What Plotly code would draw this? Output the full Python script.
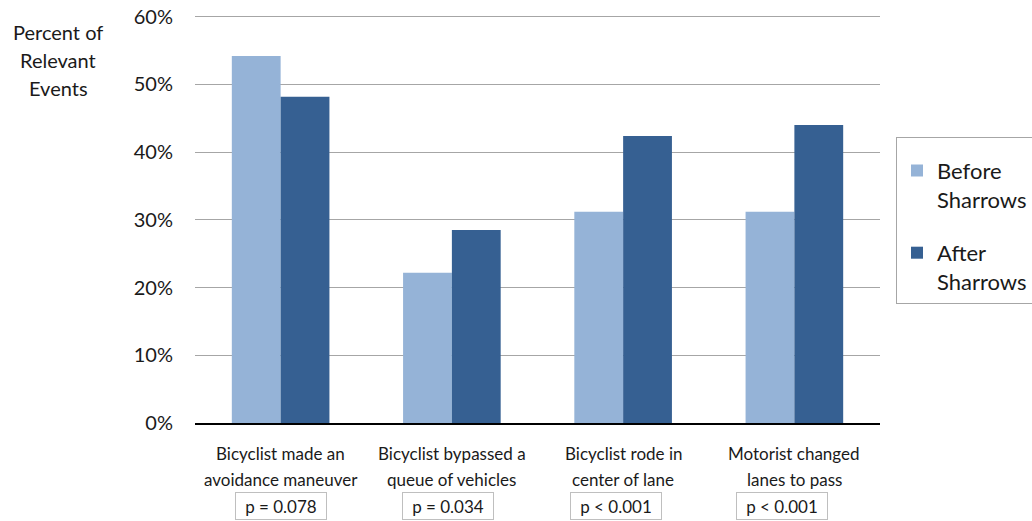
import plotly.graph_objects as go

categories = ["c1", "c2", "c3", "c4"]
label_line1 = ["Bicyclist made an", "Bicyclist bypassed a", "Bicyclist rode in", "Motorist changed"]
label_line2 = ["avoidance maneuver", "queue of vehicles", "center of lane", "lanes to pass"]
p_values = ["p = 0.078", "p = 0.034", "p < 0.001", "p < 0.001"]
before = [54.2, 22.2, 31.2, 31.2]
after = [48.2, 28.5, 42.4, 44.0]
series_names = ["Before<br>Sharrows", "After<br>Sharrows"]
y_ticks = [0, 10, 20, 30, 40, 50, 60]
y_tick_labels = ["0%", "10%", "20%", "30%", "40%", "50%", "60%"]

FONT = "Lato"
TXT = "#1a1a1a"
W, H = 1032, 521
ML, MR, MT, MB = 195, 152, 10, 98
PLOT_L, PLOT_B = 195, 423          # pixel coordinates of plot area left / bottom
plot_h = H - MT - MB
plot_w = W - ML - MR

def py(px):
    return (PLOT_B - px) / plot_h

def pxx(px):
    return (px - PLOT_L) / plot_w

fig = go.Figure()
fig.add_trace(go.Bar(x=categories, y=before, name=series_names[0], legendgroup="b",
                     marker=dict(color="#95B3D7", line=dict(width=0))))
fig.add_trace(go.Bar(x=categories, y=after, name=series_names[1], legendgroup="a",
                     marker=dict(color="#366092", line=dict(width=0))))

annotations = []
p_shift = [0, -4, -7, -12]
for i, c in enumerate(categories):
    annotations.append(dict(x=c, y=py(453), xref="x", yref="paper", text=label_line1[i],
                            showarrow=False, font=dict(family=FONT, size=17, color=TXT),
                            xanchor="center", yanchor="middle"))
    annotations.append(dict(x=c, y=py(479), xref="x", yref="paper", text=label_line2[i],
                            showarrow=False, font=dict(family=FONT, size=17, color=TXT),
                            xanchor="center", yanchor="middle"))
    annotations.append(dict(x=c, y=py(506), xref="x", yref="paper", text=p_values[i],
                            showarrow=False, font=dict(family=FONT, size=17, color=TXT),
                            xanchor="center", yanchor="middle", xshift=p_shift[i],
                            bordercolor="#bfbfbf", borderwidth=1, borderpad=2,
                            width=86, height=22))

for txt, ypx in [("Percent of", 32), ("Relevant", 60), ("Events", 88)]:
    annotations.append(dict(x=pxx(58), y=py(ypx), xref="paper", yref="paper", text=txt,
                            showarrow=False, font=dict(family=FONT, size=20, color=TXT),
                            xanchor="center", yanchor="middle"))

fig.update_layout(
    width=W, height=H,
    margin=dict(l=ML, r=MR, t=MT, b=MB, autoexpand=False),
    paper_bgcolor="white", plot_bgcolor="white",
    barmode="group", bargap=0.43, bargroupgap=0,
    font=dict(family=FONT, color=TXT),
    xaxis=dict(showticklabels=False, showline=True, linecolor="#000", linewidth=2,
               ticks="", showgrid=False, zeroline=False),
    yaxis=dict(range=[0, 61], tickmode="array", tickvals=y_ticks, ticktext=y_tick_labels,
               showgrid=True, gridcolor="#a6a6a6", gridwidth=1, zeroline=False,
               showline=False, ticks="", ticklabelstandoff=21, ticklabeloverflow="allow",
               tickfont=dict(family=FONT, size=20, color=TXT)),
    legend=dict(x=pxx(896), y=py(137), xanchor="left", yanchor="top",
                bordercolor="#a6a6a6", borderwidth=1, bgcolor="white",
                font=dict(family=FONT, size=22, color=TXT), valign="top",
                tracegroupgap=22, itemwidth=30,
                title=dict(text="&nbsp;", font=dict(size=9))),
    annotations=annotations,
    showlegend=True,
)
fig.write_html("out.html", config={"displayModeBar": False},
               post_script="document.body.style.margin='0';document.body.style.overflow='hidden';")
